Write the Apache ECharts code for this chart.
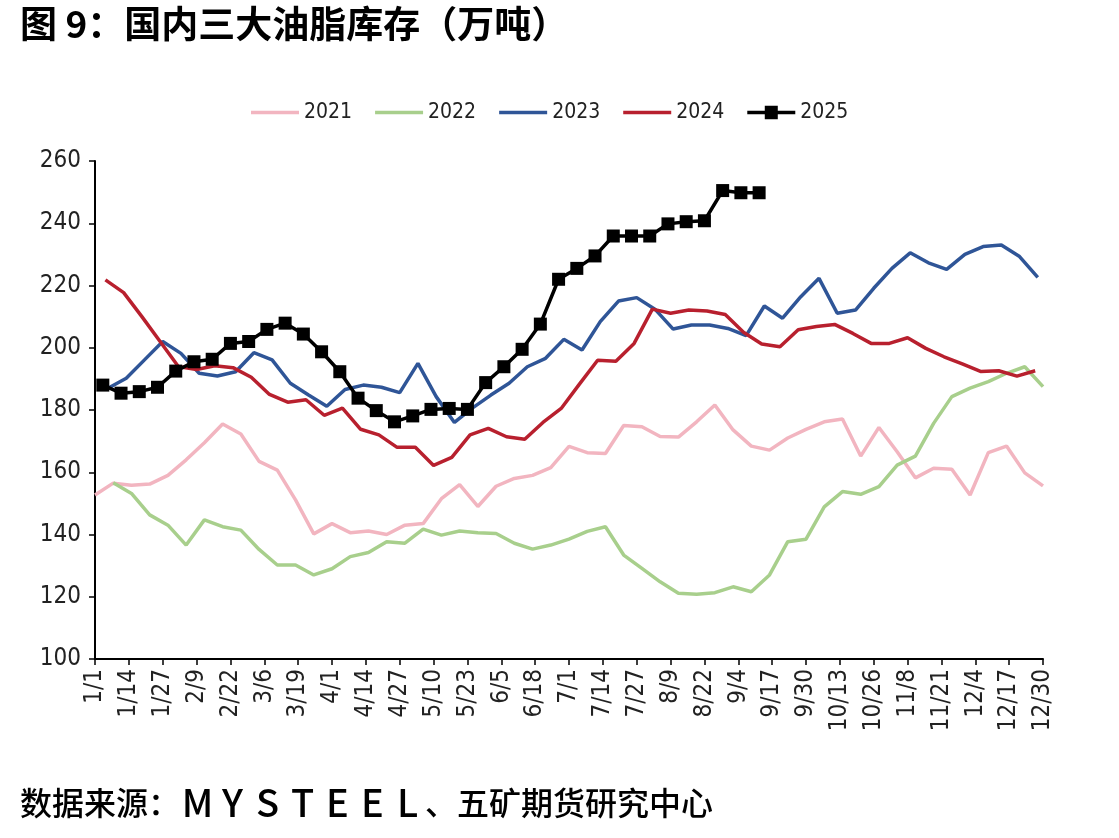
<!DOCTYPE html>
<html lang="zh">
<head>
    <meta charset="UTF-8">
    <script src="https://cdn.jsdelivr.net/npm/echarts@6/dist/echarts.min.js"></script>
    <title>国内三大油脂库存</title>
    <style>html, body { margin: 0; padding: 0; background: #fff; }</style>
</head>
<body>
<div id="main" style="width: 1119px;height:838px;"></div>
<script type="text/javascript">
    // 横轴刻度标签（每 13 天一个）
    var xLabels = ['1/1', '1/14', '1/27', '2/9', '2/22', '3/6', '3/19', '4/1', '4/14', '4/27',
        '5/10', '5/23', '6/5', '6/18', '7/1', '7/14', '7/27', '8/9', '8/22', '9/4',
        '9/17', '9/30', '10/13', '10/26', '11/8', '11/21', '12/4', '12/17', '12/30'];

    var years = ['2021', '2022', '2023', '2024', '2025'];
    // 每年第一期数据日期，之后按周
    var startDates = ['2021-01-01', '2022-01-08', '2023-01-06', '2024-01-05', '2025-01-04'];

    // 周度库存（万吨）
    var v2021 = [152.7, 156.5, 155.8, 156.2, 159, 164, 169.5, 175.5, 172.3, 163.5,
        160.7, 151.1, 140.2, 143.5, 140.6, 141.1, 140, 143, 143.5, 151.5,
        156, 149, 155.5, 158, 159, 161.5, 168.3, 166.3, 166, 175,
        174.6, 171.5, 171.3, 176.2, 181.6, 173.6, 168.4, 167.1, 171, 173.8,
        176.2, 177.1, 165.2, 174.4, 166.6, 158.2, 161.3, 161, 152.7, 166.3,
        168.4, 159.8, 155.6];
    var v2022 = [156.6, 153.2, 146.3, 143, 136.6, 144.7, 142.5, 141.4, 135.2, 130.2,
        130.2, 127, 129, 132.9, 134.2, 137.7, 137.2, 141.7, 139.8, 141.1,
        140.6, 140.3, 137.2, 135.3, 136.6, 138.5, 141, 142.5, 133.4, 129.1,
        124.8, 121.1, 120.8, 121.3, 123.2, 121.6, 127, 137.7, 138.5, 148.9,
        153.8, 152.9, 155.4, 162.3, 165.2, 175.7, 184.3, 187, 189.1, 191.8,
        193.9, 187.5];
    var v2023 = [187, 190.2, 196.1, 202, 198.2, 191.8, 190.9, 192.3, 198.4, 196.1,
        188.6, 184.8, 181.2, 186.6, 188, 187.3, 185.6, 195, 184.3, 176,
        180.7, 184.8, 188.6, 193.9, 196.6, 202.7, 199.3, 208.4, 215, 216.1,
        212.4, 206, 207.3, 207.3, 206.2, 203.9, 213.4, 209.5, 216.4, 222.3,
        211.1, 212.1, 219.1, 225.5, 230.5, 227.3, 225.2, 230, 232.5, 233,
        229.3, 222.6];
    var v2024 = [221.8, 217.7, 210, 202, 194, 193, 194.2, 193.6, 190.5, 185,
        182.5, 183.3, 178.3, 180.6, 173.8, 172, 168, 168, 162.2, 164.8,
        172, 174.1, 171.4, 170.6, 176, 180.5, 188.3, 196, 195.7, 201.4,
        212.4, 211.1, 212.1, 211.8, 210.7, 205, 201.2, 200.3, 205.8, 206.8,
        207.5, 204.6, 201.4, 201.4, 203.2, 199.8, 197.1, 194.8, 192.4, 192.6,
        190.9, 192.6];
    var v2025 = [188, 185.4, 185.9, 187.3, 192.5, 195.5, 196.3, 201.4, 202, 205.9,
        207.9, 204.4, 198.7, 192.3, 183.8, 179.8, 176.2, 178.1, 180.2, 180.5,
        180.2, 188.8, 193.9, 199.5, 207.6, 222, 225.5, 229.5, 235.9, 235.9,
        235.9, 239.8, 240.5, 240.8, 250.5, 249.8, 249.8];

    var values = [v2021, v2022, v2023, v2024, v2025];
    var colors = ['#F2B5C0', '#A8CF8C', '#2F5597', '#B8202E', '#000000'];

    // 日期 -> 当年第几天，周度数据依次 +7
    function toPoints(start, vals) {
        var d = new Date(start + 'T00:00:00Z');
        var first = Date.UTC(d.getUTCFullYear(), 0, 1);
        var day = Math.round((d.getTime() - first) / 864e5);
        return vals.map(function (v, i) { return [day + 7 * i, v]; });
    }

    var axisFont = "'DejaVu Sans Condensed', 'Liberation Sans Narrow', 'Liberation Sans', sans-serif";
    var cjkFont = "'Noto Sans CJK SC', sans-serif";
    // 图例图标：普通线 / 带方块的线
    var lineIcon = 'path://M0,5L48,5L48,8.5L0,8.5Z';
    var markIcon = 'path://M0,5L48,5L48,8.5L0,8.5Z M17.5,0L30.5,0L30.5,13.5L17.5,13.5Z';

    var series = years.map(function (y, k) {
        var last = k === years.length - 1;
        return {
            name: y,
            type: 'line',
            data: toPoints(startDates[k], values[k]),
            symbol: last ? 'rect' : 'none',
            symbolSize: 13,
            smooth: false,
            z: 2 + k,
            lineStyle: { color: colors[k], width: 3.5 },
            itemStyle: { color: colors[k] }
        };
    });

    var myChart = echarts.init(document.getElementById('main'));

    var option = {
        backgroundColor: '#fff',
        animation: false,
        title: {
            text: '图 9：国内三大油脂库存（万吨）',
            left: 20,
            top: 5,
            padding: 0,
            textStyle: {
                fontFamily: cjkFont,
                fontSize: 37,
                fontWeight: 'bold',
                color: '#000'
            }
        },
        legend: {
            top: 97,
            left: 246,
            itemWidth: 48,
            itemHeight: 14,
            itemGap: 23,
            textStyle: { fontFamily: axisFont, fontSize: 21, color: '#222' },
            data: years.map(function (y, k) {
                return { name: y, icon: k === years.length - 1 ? markIcon : lineIcon };
            })
        },
        grid: { left: 95, right: 76, top: 161, bottom: 179 },
        xAxis: {
            type: 'value',
            min: 0,
            max: 364,
            interval: 13,
            splitLine: { show: false },
            axisLine: { lineStyle: { color: '#000', width: 2 } },
            axisTick: { show: true, length: 6, lineStyle: { color: '#000', width: 1.5 } },
            axisLabel: {
                rotate: 90,
                margin: 10,
                fontFamily: axisFont,
                fontSize: 24,
                color: '#222',
                formatter: function (v) { return xLabels[Math.round(v / 13)]; }
            }
        },
        yAxis: {
            type: 'value',
            min: 100,
            max: 260,
            interval: 20,
            splitLine: { show: false },
            axisLine: { show: true, lineStyle: { color: '#000', width: 2 } },
            axisTick: { show: true, length: 6, lineStyle: { color: '#000', width: 1.5 } },
            axisLabel: {
                margin: 14,
                fontFamily: axisFont,
                fontSize: 24,
                color: '#222'
            }
        },
        graphic: [{
            type: 'text',
            left: 20,
            top: 784,
            style: {
                text: '数据来源：{w|M}{w|Y}{w|S}{w|T}{w|E}{w|E}{w|L}、五矿期货研究中心',
                fill: '#000',
                fontFamily: cjkFont,
                fontSize: 32,
                fontWeight: 500,
                rich: {
                    w: { width: 35, align: 'center', fontSize: 38, fontWeight: 500, fontFamily: cjkFont, fill: '#000' }
                }
            }
        }],
        series: series
    };

    myChart.setOption(option);
</script>
</body>
</html>
